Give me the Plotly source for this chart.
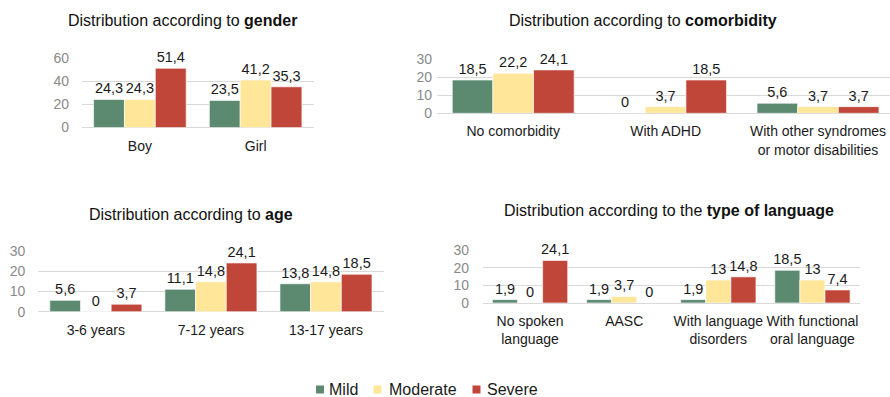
import plotly.graph_objects as go

# Severity levels and colours
levels = ["Mild", "Moderate", "Severe"]
colors = ["#5B8A71", "#FFE699", "#C0463A"]

# Distribution according to gender (%)
gender_cats = ["Boy", "Girl"]
gender_mild = [24.3, 23.5]
gender_moderate = [24.3, 41.2]
gender_severe = [51.4, 35.3]

# Distribution according to comorbidity (%)
comorb_cats = ["No comorbidity", "With ADHD", "With other syndromes<br>or motor disabilities"]
comorb_mild = [18.5, 0, 5.6]
comorb_moderate = [22.2, 3.7, 3.7]
comorb_severe = [24.1, 18.5, 3.7]

# Distribution according to age (%)
age_cats = ["3-6 years", "7-12 years", "13-17 years"]
age_mild = [5.6, 11.1, 13.8]
age_moderate = [0, 14.8, 14.8]
age_severe = [3.7, 24.1, 18.5]

# Distribution according to the type of language (%)
lang_cats = ["No spoken<br>language", "AASC", "With language<br>disorders", "With functional<br>oral language"]
lang_mild = [1.9, 1.9, 1.9, 18.5]
lang_moderate = [0, 3.7, 13, 13]
lang_severe = [24.1, 0, 14.8, 7.4]

W, H = 890, 397
FONT = "Liberation Sans, Arial, Helvetica, sans-serif"


def fmt(v):
    # decimal comma, whole numbers without decimals
    if float(v).is_integer():
        return str(int(v))
    return f"{v:.1f}".replace(".", ",")


def px_x(a, b):
    return [a / W, min(b / W, 1.0)]


def px_y(top, bottom):
    return [(H - bottom) / H, (H - top) / H]


panels = [
    dict(cats=gender_cats, series=[gender_mild, gender_moderate, gender_severe],
         xdom=px_x(82, 313.5), ydom=px_y(58.3, 127.5), ymax=60, dtick=20,
         xrange=[-0.5, 1.5], ystand=12),
    dict(cats=comorb_cats, series=[comorb_mild, comorb_moderate, comorb_severe],
         xdom=px_x(437, 890), ydom=px_y(59.3, 113.3), ymax=30, dtick=10,
         xrange=[-0.5, -0.5 + 453 / 152.4], ystand=4),
    dict(cats=age_cats, series=[age_mild, age_moderate, age_severe],
         xdom=px_x(38.3, 383.5), ydom=px_y(251, 311.7), ymax=30, dtick=10,
         xrange=[-0.5, 2.5], ystand=12),
    dict(cats=lang_cats, series=[lang_mild, lang_moderate, lang_severe],
         xdom=px_x(483, 859.5), ydom=px_y(250, 303), ymax=30, dtick=10,
         xrange=[-0.5, 3.5], ystand=13),
]

fig = go.Figure()
layout = {}

for i, p in enumerate(panels, start=1):
    xa = "x" if i == 1 else f"x{i}"
    ya = "y" if i == 1 else f"y{i}"
    for name, color, vals in zip(levels, colors, p["series"]):
        fig.add_trace(go.Bar(
            x=list(range(len(p["cats"]))), y=vals, name=name,
            marker=dict(color=color, line=dict(color="rgba(255,255,255,0.8)", width=0.8)),
            text=[fmt(v) for v in vals], textposition="outside",
            textfont=dict(family=FONT, size=14.5, color="#1a1a1a"),
            constraintext="none", cliponaxis=False,
            xaxis=xa, yaxis=ya, legendgroup=name, showlegend=False,
            hoverinfo="skip",
        ))
    xkey = "xaxis" if i == 1 else f"xaxis{i}"
    ykey = "yaxis" if i == 1 else f"yaxis{i}"
    layout[xkey] = dict(
        domain=p["xdom"], anchor=ya, range=p["xrange"],
        tickmode="array", tickvals=list(range(len(p["cats"]))), ticktext=p["cats"],
        showgrid=False, zeroline=False, showline=False, ticks="",
        ticklabelstandoff=8, automargin=False,
        tickfont=dict(family=FONT, size=14, color="#1a1a1a"), fixedrange=True,
    )
    layout[ykey] = dict(
        domain=p["ydom"], anchor=xa, range=[0, p["ymax"]], dtick=p["dtick"],
        showgrid=True, gridcolor="#D9D9D9", gridwidth=1,
        zeroline=True, zerolinecolor="#D9D9D9", zerolinewidth=1,
        showline=False, ticks="", ticklabelstandoff=p["ystand"], automargin=False,
        tickfont=dict(family=FONT, size=14, color="#8A8A8A"), fixedrange=True,
    )

titles = [
    ("Distribution according to <b>gender</b>", 182, 20),
    ("Distribution according to <b>comorbidity</b>", 642.5, 20.5),
    ("Distribution according to <b>age</b>", 191, 214.5),
    ("Distribution according to the <b>type of language</b>", 669, 210),
]
annotations = [
    dict(text=t, x=cx / W, y=(H - cy) / H, xref="paper", yref="paper",
         xanchor="center", yanchor="middle", showarrow=False,
         font=dict(family=FONT, size=16, color="#111111"))
    for t, cx, cy in titles
]

# Shared key for the three severity levels, drawn below the panels
key_y = 389.5
key_items = [(316, 327), (373.5, 387), (472.5, 485)]
shapes = []
for (sq_x, txt_x), name, color in zip(key_items, levels, colors):
    shapes.append(dict(type="rect", xref="paper", yref="paper",
                       x0=sq_x / W, x1=(sq_x + 8) / W,
                       y0=(H - key_y - 4) / H, y1=(H - key_y + 4) / H,
                       fillcolor=color, line=dict(width=0)))
    annotations.append(dict(text=name, x=txt_x / W, y=(H - key_y) / H,
                            xref="paper", yref="paper", xanchor="left", yanchor="middle",
                            showarrow=False,
                            font=dict(family=FONT, size=16, color="#1a1a1a")))

fig.update_layout(
    width=W, height=H,
    margin=dict(l=0, r=0, t=0, b=0, autoexpand=False),
    paper_bgcolor="white", plot_bgcolor="white",
    barmode="group", bargap=0.2, bargroupgap=0,
    font=dict(family=FONT, color="#1a1a1a"),
    annotations=annotations, shapes=shapes,
    showlegend=False,
    **layout,
)

fig.write_html("out.html")
